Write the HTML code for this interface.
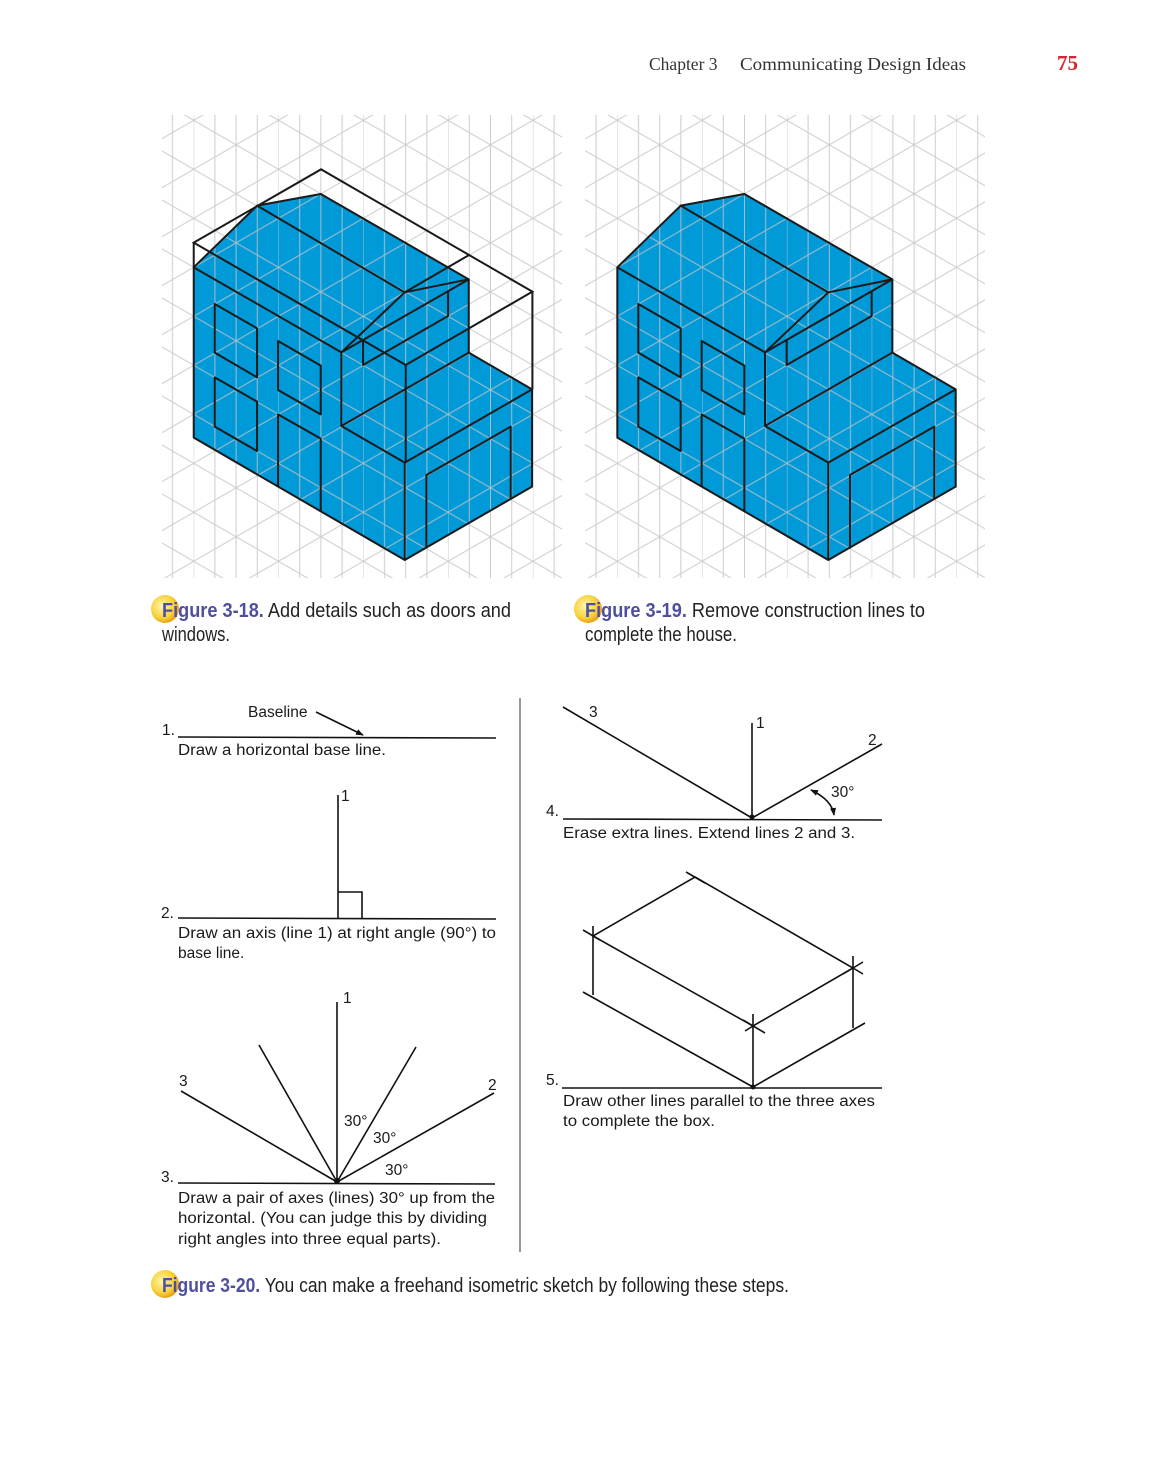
<!DOCTYPE html>
<html><head><meta charset="utf-8"><style>
html,body{margin:0;padding:0;background:#fff;}
svg{display:block;}
text{font-family:"Liberation Sans",Arial,sans-serif;}
</style></head><body>
<svg width="1161" height="1484" viewBox="0 0 1161 1484" xmlns="http://www.w3.org/2000/svg">
<defs>
<pattern id="g1" patternUnits="userSpaceOnUse" x="108.9" y="267.3" width="84.8" height="49">
<g stroke="#c4c4c4" stroke-width="1" fill="none">
<line x1="0" y1="0" x2="0" y2="49"/><line x1="21.2" y1="0" x2="21.2" y2="49"/><line x1="42.4" y1="0" x2="42.4" y2="49"/><line x1="63.6" y1="0" x2="63.6" y2="49"/>
<line x1="0" y1="0" x2="84.8" y2="49"/><line x1="0" y1="49" x2="84.8" y2="0"/>
</g></pattern>
<pattern id="g2" patternUnits="userSpaceOnUse" x="532.5" y="267.3" width="84.8" height="49">
<g stroke="#c4c4c4" stroke-width="1" fill="none">
<line x1="0" y1="0" x2="0" y2="49"/><line x1="21.2" y1="0" x2="21.2" y2="49"/><line x1="42.4" y1="0" x2="42.4" y2="49"/><line x1="63.6" y1="0" x2="63.6" y2="49"/>
<line x1="0" y1="0" x2="84.8" y2="49"/><line x1="0" y1="49" x2="84.8" y2="0"/>
</g></pattern>
<radialGradient id="ball" cx="0.4" cy="0.4" r="0.6">
<stop offset="0" stop-color="#fff6b0"/><stop offset="0.7" stop-color="#f7d23a"/><stop offset="1" stop-color="#e9a21a"/>
</radialGradient>
<marker id="ah" markerWidth="8" markerHeight="8" refX="7" refY="4" orient="auto" markerUnits="userSpaceOnUse">
<path d="M0,1 L8,4 L0,7 Z" fill="#111"/></marker>
<marker id="ahs" markerWidth="8" markerHeight="8" refX="1" refY="4" orient="auto" markerUnits="userSpaceOnUse">
<path d="M8,1 L0,4 L8,7 Z" fill="#111"/></marker>
<g id="house">
<polygon points="112,262 302,77 493,42 937,298 937,518 1127,628 1127,920 745,1140 112,773" fill="#009ad9"/>
</g>
<g id="houselines" fill="none" stroke="#1a1a1a" stroke-width="6" stroke-linejoin="round">
<polygon points="112,262 302,77 493,42 937,298 937,518 1127,628 1127,920 745,1140 112,773"/>
<polyline points="112,262 555,517 555,738 745,848 745,1140"/>
<polyline points="745,848 1127,628"/>
<polyline points="555,738 937,518"/>
<polyline points="555,517 937,298"/>
<polyline points="302,77 745,337 937,298"/>
<polyline points="745,337 555,517"/>
<polyline points="620,480 620,555 875,408 875,335"/>
<polygon points="175,372 302,445 302,592 175,518"/>
<polygon points="175,592 302,665 302,813 175,740"/>
<polygon points="365,483 493,557 493,703 365,630"/>
<polyline points="365,920 365,703 493,776 493,995"/>
<polyline points="810,1105 810,885 1063,740 1063,955"/>
</g>
</defs>

<!-- Header -->
<text x="649" y="70" font-size="17.5" fill="#333" style="font-family:'Liberation Serif',serif">Chapter 3</text>
<text x="740" y="70" font-size="17.5" fill="#333" textLength="226" lengthAdjust="spacingAndGlyphs" style="font-family:'Liberation Serif',serif">Communicating Design Ideas</text>
<text x="1057" y="70" font-size="21" font-weight="bold" fill="#d8262e" style="font-family:'Liberation Serif',serif">75</text>

<!-- Fig 3-18 -->
<g transform="translate(156.4,180) scale(0.33333)"><use href="#house"/></g>
<rect x="162" y="115" width="400" height="463" fill="url(#g1)" opacity="0.85"/>
<g transform="translate(156.4,180) scale(0.33333)">
<use href="#houselines"/>
<g fill="none" stroke="#1a1a1a" stroke-width="6">
<polygon points="112,188 494,-32 1128,335 748,555"/>
<line x1="112" y1="188" x2="112" y2="262"/>
<line x1="1128" y1="335" x2="1128" y2="628"/>
<line x1="748" y1="555" x2="748" y2="848"/>
<line x1="745" y1="337" x2="938" y2="225"/>
</g>
</g>

<!-- Fig 3-19 -->
<g transform="translate(580,180) scale(0.33333)"><use href="#house"/></g>
<rect x="585" y="115" width="400" height="463" fill="url(#g2)" opacity="0.85"/>
<g transform="translate(580,180) scale(0.33333)"><use href="#houselines"/></g>

<!-- Captions -->
<circle cx="165" cy="609" r="14" fill="url(#ball)"/>
<text x="162" y="617" font-size="20" textLength="349" lengthAdjust="spacingAndGlyphs"><tspan fill="#4f4fa0" font-weight="bold">Figure 3-18.</tspan><tspan fill="#222"> Add details such as doors and</tspan></text>
<text x="162" y="641" font-size="20" fill="#222" textLength="68" lengthAdjust="spacingAndGlyphs">windows.</text>
<circle cx="588" cy="609" r="14" fill="url(#ball)"/>
<text x="585" y="617" font-size="20" textLength="340" lengthAdjust="spacingAndGlyphs"><tspan fill="#4f4fa0" font-weight="bold">Figure 3-19.</tspan><tspan fill="#222"> Remove construction lines to</tspan></text>
<text x="585" y="641" font-size="20" fill="#222" textLength="152" lengthAdjust="spacingAndGlyphs">complete the house.</text>

<!-- Divider -->
<line x1="520" y1="698" x2="520" y2="1252" stroke="#999" stroke-width="2"/>

<g stroke="#111" stroke-width="1.6" fill="none">
<line x1="178" y1="737" x2="496" y2="738"/>
<line x1="316" y1="712" x2="363" y2="735" marker-end="url(#ah)"/>
<line x1="178" y1="918" x2="496" y2="919"/>
<line x1="338" y1="795" x2="338" y2="918"/>
<polyline points="338,892 362,892 362,918"/>
<line x1="178" y1="1183" x2="495" y2="1184"/>
<line x1="337" y1="1002" x2="337" y2="1182"/>
<line x1="181" y1="1091" x2="337" y2="1182"/>
<line x1="494" y1="1093" x2="337" y2="1182"/>
<line x1="259" y1="1045" x2="337" y2="1182"/>
<line x1="416" y1="1047" x2="337" y2="1182"/>
<line x1="563" y1="819" x2="882" y2="820"/>
<line x1="752" y1="723" x2="752" y2="818"/>
<line x1="563" y1="707" x2="752" y2="818"/>
<line x1="882" y1="744" x2="752" y2="818"/>
<path d="M811,790 Q832,800 834,815" marker-start="url(#ahs)" marker-end="url(#ah)"/>
<line x1="562" y1="1088" x2="882" y2="1088"/>
<polygon points="695,877 853,968 753,1026 593,936"/>
<line x1="593" y1="936" x2="593" y2="995"/>
<line x1="853" y1="968" x2="853" y2="1028"/>
<line x1="753" y1="1026" x2="753" y2="1087"/>
<line x1="583" y1="992" x2="753" y2="1087"/>
<line x1="865" y1="1023" x2="753" y2="1087"/>
<line x1="686" y1="872" x2="705" y2="883"/>
<line x1="583" y1="930" x2="600" y2="940"/><line x1="593" y1="926" x2="593" y2="936"/>
<line x1="843" y1="974" x2="863" y2="962"/><line x1="853" y1="956" x2="853" y2="968"/><line x1="853" y1="968" x2="863" y2="974"/>
<line x1="743" y1="1020" x2="765" y2="1033"/><line x1="753" y1="1014" x2="753" y2="1026"/><line x1="745" y1="1031" x2="753" y2="1026"/>
</g>
<circle cx="337" cy="1181" r="3" fill="#111"/>
<circle cx="752" cy="817" r="2.5" fill="#111"/>
<circle cx="753" cy="1087" r="2.5" fill="#111"/>

<g font-size="15.5" fill="#1a1a1a">
<text x="162" y="735">1.</text>
<text x="248" y="717">Baseline</text>
<text x="178" y="755" textLength="208" lengthAdjust="spacingAndGlyphs">Draw a horizontal base line.</text>
<text x="341" y="801">1</text>
<text x="161" y="918">2.</text>
<text x="178" y="938" textLength="318" lengthAdjust="spacingAndGlyphs">Draw an axis (line 1) at right angle (90°) to</text>
<text x="178" y="958">base line.</text>
<text x="343" y="1003">1</text>
<text x="179" y="1086">3</text>
<text x="488" y="1090">2</text>
<text x="344" y="1126">30°</text>
<text x="373" y="1143">30°</text>
<text x="385" y="1175">30°</text>
<text x="161" y="1182">3.</text>
<text x="178" y="1203" textLength="317" lengthAdjust="spacingAndGlyphs">Draw a pair of axes (lines) 30° up from the</text>
<text x="178" y="1223" textLength="309" lengthAdjust="spacingAndGlyphs">horizontal. (You can judge this by dividing</text>
<text x="178" y="1244" textLength="263" lengthAdjust="spacingAndGlyphs">right angles into three equal parts).</text>
<text x="589" y="717">3</text>
<text x="756" y="728">1</text>
<text x="868" y="745">2</text>
<text x="831" y="797">30°</text>
<text x="546" y="816">4.</text>
<text x="563" y="838" textLength="292" lengthAdjust="spacingAndGlyphs">Erase extra lines. Extend lines 2 and 3.</text>
<text x="546" y="1085">5.</text>
<text x="563" y="1106" textLength="312" lengthAdjust="spacingAndGlyphs">Draw other lines parallel to the three axes</text>
<text x="563" y="1126" textLength="152" lengthAdjust="spacingAndGlyphs">to complete the box.</text>
</g>

<circle cx="165" cy="1284" r="14" fill="url(#ball)"/>
<text x="162" y="1292" font-size="20" textLength="627" lengthAdjust="spacingAndGlyphs"><tspan fill="#4f4fa0" font-weight="bold">Figure 3-20.</tspan><tspan fill="#222"> You can make a freehand isometric sketch by following these steps.</tspan></text>
</svg>
</body></html>
